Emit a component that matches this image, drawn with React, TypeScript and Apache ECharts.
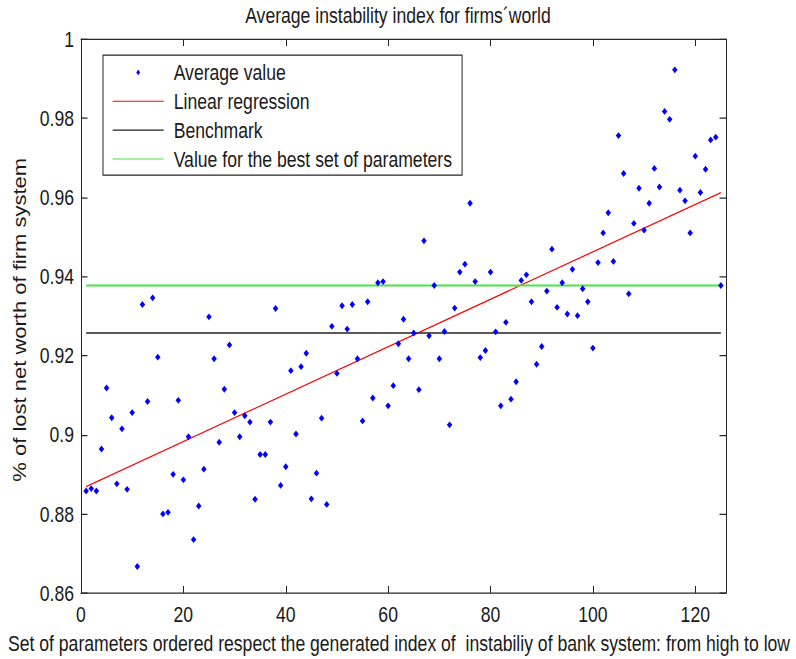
import React, { useEffect, useRef } from "react";
import * as echarts from "echarts";

const titleText = "Average instability index for firms\u00b4world";
const xAxisName =
  "Set of parameters ordered respect the generated index of  instabiliy of bank system: from high to low";
const yAxisName = "% of lost net worth of firm system";
const legendNames = [
  "Average value",
  "Linear regression",
  "Benchmark",
  "Value for the best set of parameters",
];

// Average value for each parameter set (x = 1..125)
const averageValues = [
  0.8858, 0.8864, 0.8858, 0.8964, 0.9118, 0.9043, 0.8876, 0.9015, 0.8862, 0.9056,
  0.8667, 0.9329, 0.9084, 0.9346, 0.9196, 0.88, 0.8804, 0.89, 0.9087, 0.8886,
  0.8995, 0.8735, 0.882, 0.8913, 0.9298, 0.9192, 0.8981, 0.9115, 0.9227, 0.9056,
  0.8995, 0.9048, 0.9032, 0.8837, 0.895, 0.895, 0.9032, 0.9319, 0.8872, 0.8919,
  0.9162, 0.9002, 0.9172, 0.9206, 0.8838, 0.8903, 0.9042, 0.8824, 0.9274, 0.9155,
  0.9326, 0.9267, 0.9329, 0.9192, 0.9035, 0.9336, 0.9093, 0.9384, 0.9387, 0.9073,
  0.9124, 0.923, 0.9292, 0.9192, 0.9257, 0.9114, 0.949, 0.925, 0.9377, 0.9192,
  0.9261, 0.9025, 0.932, 0.9411, 0.9431, 0.9585, 0.9387, 0.9195, 0.9213, 0.9411,
  0.926, 0.9073, 0.9284, 0.909, 0.9134, 0.939, 0.9404, 0.9336, 0.9178, 0.9223,
  0.9363, 0.9469, 0.9322, 0.9384, 0.9305, 0.9418, 0.9301, 0.9369, 0.9336, 0.9219,
  0.9435, 0.951, 0.9561, 0.9438, 0.9756, 0.966, 0.9356, 0.9534, 0.9623, 0.9517,
  0.9585, 0.9673, 0.9626, 0.9817, 0.9797, 0.9922, 0.9618, 0.9591, 0.951, 0.9704,
  0.9612, 0.9671, 0.9745, 0.9752, 0.9377,
];

const regressionX = [1, 125];
const regressionY = [0.8869, 0.9612];
const benchmarkValue = 0.9257;
const bestValue = 0.9377;
const lineSpan = [1, 125];

const xMin = 0;
const xMax = 126;
const xInterval = 20;
const yMin = 0.86;
const yMax = 1;
const yInterval = 0.02;

// The reference figure is stretched vertically; the chart is drawn in a
// shorter box and stretched with a CSS transform.
const WIDTH = 796;
const HEIGHT = 659;
const STRETCH = 1.25;
const INNER_H = HEIGHT / STRETCH;

const FONT = "'Liberation Sans', Arial, Helvetica, sans-serif";
const FS = 17.6;
const TEXT = "#1a1a1a";
const AXIS = "#262626";
const LINE_ICON = "path://M0,0L51,0L51,0.9L0,0.9Z";
const DIAMOND_ICON = "path://M0,-1L0.85,0L0,1L-0.85,0Z";

export default function App() {
  const ref = useRef<HTMLDivElement>(null);

  useEffect(() => {
    document.body.style.margin = "0";
    if (!ref.current) return;
    const chart = echarts.init(ref.current, undefined, { renderer: "svg" });

    const axisLine = { show: true, onZero: false, lineStyle: { color: AXIS, width: 1 } };

    const option: any = {
      animation: false,
      backgroundColor: "#ffffff",
      title: {
        text: titleText,
        left: "center",
        top: 0,
        padding: [3, 0, 3, 10],
        textStyle: {
          fontFamily: FONT,
          fontSize: FS,
          fontWeight: "normal",
          color: TEXT,
        },
      },
      grid: {
        left: 81,
        right: 70,
        top: 39 / STRETCH,
        bottom: INNER_H - 593.3 / STRETCH,
        containLabel: false,
        outerBoundsMode: "none",
      },
      legend: {
        orient: "vertical",
        left: 103,
        top: 55 / STRETCH,
        padding: [4.9, 10, 3.8, 9.7],
        borderColor: AXIS,
        borderWidth: 1,
        backgroundColor: "#ffffff",
        itemWidth: 51,
        itemHeight: 4.5,
        itemGap: 5.1,
        selectedMode: false,
        symbolKeepAspect: true,
        itemStyle: { borderWidth: 0 },
        textStyle: {
          fontFamily: FONT,
          fontSize: FS,
          color: TEXT,
          padding: [0, 0, 0, 5],
        },
        data: [
          { name: legendNames[0], icon: DIAMOND_ICON },
          { name: legendNames[1], icon: LINE_ICON },
          { name: legendNames[2], icon: LINE_ICON },
          { name: legendNames[3], icon: LINE_ICON },
        ],
      },
      xAxis: [
        {
          type: "value",
          min: xMin,
          max: xMax,
          interval: xInterval,
          position: "bottom",
          axisLine,
          axisTick: { show: true, inside: true, length: 5.6, lineStyle: { color: AXIS, width: 1 } },
          splitLine: { show: false },
          axisLabel: {
            showMaxLabel: false,
            color: TEXT,
            fontFamily: FONT,
            fontSize: FS,
            margin: 8,
          },
          name: xAxisName,
          nameLocation: "middle",
          nameGap: 30,
          nameTextStyle: {
            fontFamily: FONT,
            fontSize: FS,
            color: TEXT,
            padding: [0, 9, 0, 0],
          },
        },
        {
          type: "value",
          min: xMin,
          max: xMax,
          interval: xInterval,
          position: "top",
          axisLine,
          axisTick: { show: true, inside: true, length: 5.6, lineStyle: { color: AXIS, width: 1 } },
          splitLine: { show: false },
          axisLabel: { show: false },
        },
      ],
      yAxis: [
        {
          type: "value",
          min: yMin,
          max: yMax,
          interval: yInterval,
          position: "left",
          axisLine,
          axisTick: { show: true, inside: true, length: 6.5, lineStyle: { color: AXIS, width: 1 } },
          splitLine: { show: false },
          axisLabel: {
            color: TEXT,
            fontFamily: FONT,
            fontSize: FS,
            margin: 7,
            formatter: (v: number) => String(parseFloat(v.toFixed(2))),
          },
          name: yAxisName,
          nameLocation: "middle",
          nameGap: 51,
          nameTextStyle: {
            fontFamily: FONT,
            fontSize: FS,
            color: TEXT,
            padding: [0, 6, 0, 0],
          },
        },
        {
          type: "value",
          min: yMin,
          max: yMax,
          interval: yInterval,
          position: "right",
          axisLine,
          axisTick: { show: true, inside: true, length: 6.5, lineStyle: { color: AXIS, width: 1 } },
          splitLine: { show: false },
          axisLabel: { show: false },
        },
      ],
      series: [
        {
          name: legendNames[1],
          type: "line",
          data: regressionX.map((x, i) => [x, regressionY[i]]),
          symbol: "none",
          lineStyle: { color: "#ff0000", width: 1 },
          itemStyle: { color: "#ff0000" },
          z: 2,
        },
        {
          name: legendNames[2],
          type: "line",
          data: lineSpan.map((x) => [x, benchmarkValue]),
          symbol: "none",
          lineStyle: { color: "#222222", width: 1.3 },
          itemStyle: { color: "#222222" },
          z: 2,
        },
        {
          name: legendNames[3],
          type: "line",
          data: lineSpan.map((x) => [x, bestValue]),
          symbol: "none",
          lineStyle: { color: "#4be34b", width: 1.6 },
          itemStyle: { color: "#4be34b" },
          z: 2,
        },
        {
          name: legendNames[0],
          type: "scatter",
          data: averageValues.map((v, i) => [i + 1, v]),
          symbol: "diamond",
          symbolSize: [5.5, 5.5],
          itemStyle: { color: "#0000ff", opacity: 1 },
          z: 3,
        },
      ],
    };

    chart.setOption(option);
    return () => chart.dispose();
  }, []);

  return (
    <div style={{ width: WIDTH, height: HEIGHT, overflow: "visible", position: "relative" }}>
      <div
        ref={ref}
        style={{
          position: "absolute",
          left: 0,
          top: 0,
          width: WIDTH,
          height: INNER_H,
          transform: `scaleY(${STRETCH})`,
          transformOrigin: "0 0",
        }}
      />
    </div>
  );
}
